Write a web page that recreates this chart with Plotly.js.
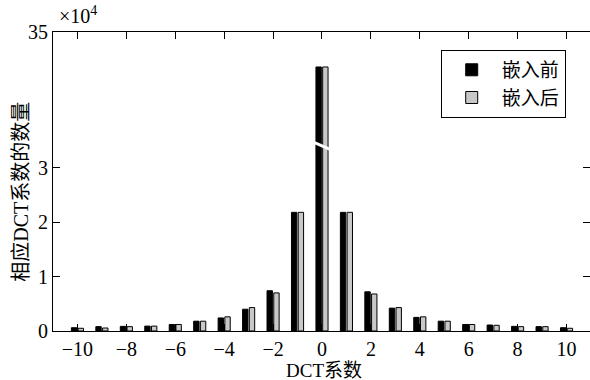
<!DOCTYPE html>
<html>
<head>
<meta charset="utf-8">
<script src="https://cdn.plot.ly/plotly-3.0.1.min.js"></script>
<style>html,body{margin:0;padding:0;background:#fff;}#chart{width:590px;height:380px;}</style>
</head>
<body>
<div id="chart"></div>
<script>
var coeffs = [-10,-9,-8,-7,-6,-5,-4,-3,-2,-1,0,1,2,3,4,5,6,7,8,9,10];
var before = [0.06,0.08,0.085,0.09,0.12,0.18,0.24,0.40,0.74,2.18,25.3,2.18,0.72,0.42,0.25,0.18,0.12,0.11,0.085,0.08,0.06];
var after  = [0.05,0.055,0.08,0.09,0.12,0.18,0.26,0.43,0.70,2.18,25.3,2.18,0.68,0.43,0.26,0.18,0.12,0.105,0.08,0.08,0.05];
var seriesNames = ['嵌入前','嵌入后'];
var xTicks = [-10,-8,-6,-4,-2,0,2,4,6,8,10];
var yTicksLow = [0,1,2,3];
var yTicksHigh = [35];

var FONT = 'Liberation Serif, Times New Roman, Noto Sans CJK SC, serif';
var breakVal = 3.4;
var splitFrac = 0.619;

function barTrace(y, name, color, xa, ya, show) {
  return {
    type: 'bar', x: coeffs, y: y, name: name,
    xaxis: xa, yaxis: ya, showlegend: show,
    marker: {color: color, line: {color: '#000', width: 1}},
    hoverinfo: 'x+y'
  };
}

var data = [
  barTrace(before, seriesNames[0], '#000000', 'x', 'y', true),
  barTrace(after, seriesNames[1], '#c8c8c8', 'x', 'y', true),
  barTrace(before, seriesNames[0], '#000000', 'x2', 'y2', false),
  barTrace(after, seriesNames[1], '#c8c8c8', 'x2', 'y2', false)
];

var axBase = {
  showline: true, linecolor: '#000', linewidth: 1,
  ticks: 'inside', ticklen: 7, tickcolor: '#000', tickwidth: 1,
  showgrid: false, zeroline: false,
  tickfont: {family: FONT, size: 20, color: '#000'}
};

var layout = {
  width: 590, height: 380,
  margin: {l: 53, r: 0, t: 32, b: 49},
  paper_bgcolor: '#fff', plot_bgcolor: '#fff',
  barmode: 'group', bargap: 0.45, bargroupgap: 0.2,
  font: {family: FONT, size: 20, color: '#000'},
  xaxis: Object.assign({}, axBase, {
    range: [-11, 10.96], tickvals: xTicks, anchor: 'y', domain: [0, 1], ticklabelstandoff: 0
  }),
  xaxis2: Object.assign({}, axBase, {
    range: [-11, 10.96], tickvals: xTicks, anchor: 'y2', side: 'top',
    showticklabels: false, matches: 'x', domain: [0, 1]
  }),
  yaxis: Object.assign({}, axBase, {
    range: [0, breakVal], tickvals: yTicksLow, domain: [0, splitFrac],
    mirror: 'ticks', anchor: 'x'
  }),
  yaxis2: Object.assign({}, axBase, {
    range: [breakVal, 35], tickvals: yTicksHigh, domain: [splitFrac, 1],
    mirror: 'ticks', anchor: 'x2'
  }),
  legend: {
    x: 0.722, y: 0.94, xanchor: 'left', yanchor: 'top',
    bordercolor: '#000', borderwidth: 1, bgcolor: '#fff',
    font: {family: FONT, size: 19, color: '#000'},
    itemwidth: 50, tracegroupgap: 0
  },
  shapes: [{
    type: 'line', xref: 'x', yref: 'paper',
    x0: -0.4, x1: 0.4, y0: splitFrac + 0.014, y1: splitFrac - 0.014,
    line: {color: '#fff', width: 3}, layer: 'above'
  }],
  annotations: [
    {text: '×10<sup>4</sup>', xref: 'paper', yref: 'paper', x: 0.008, y: 1.058,
     xanchor: 'left', yanchor: 'middle', showarrow: false,
     font: {family: FONT, size: 20, color: '#000'}},
    {text: '相应DCT系数的数量', xref: 'paper', yref: 'paper', x: -0.06, y: 0.465,
     xanchor: 'center', yanchor: 'middle', textangle: -90, showarrow: false,
     font: {family: FONT, size: 20, color: '#000'}},
    {text: 'DCT系数', xref: 'paper', yref: 'paper', x: 0.505, y: -0.131,
     xanchor: 'center', yanchor: 'middle', showarrow: false,
     font: {family: FONT, size: 19, color: '#000'}}
  ]
};

Plotly.newPlot('chart', data, layout, {displayModeBar: false, staticPlot: true});
</script>
</body>
</html>
